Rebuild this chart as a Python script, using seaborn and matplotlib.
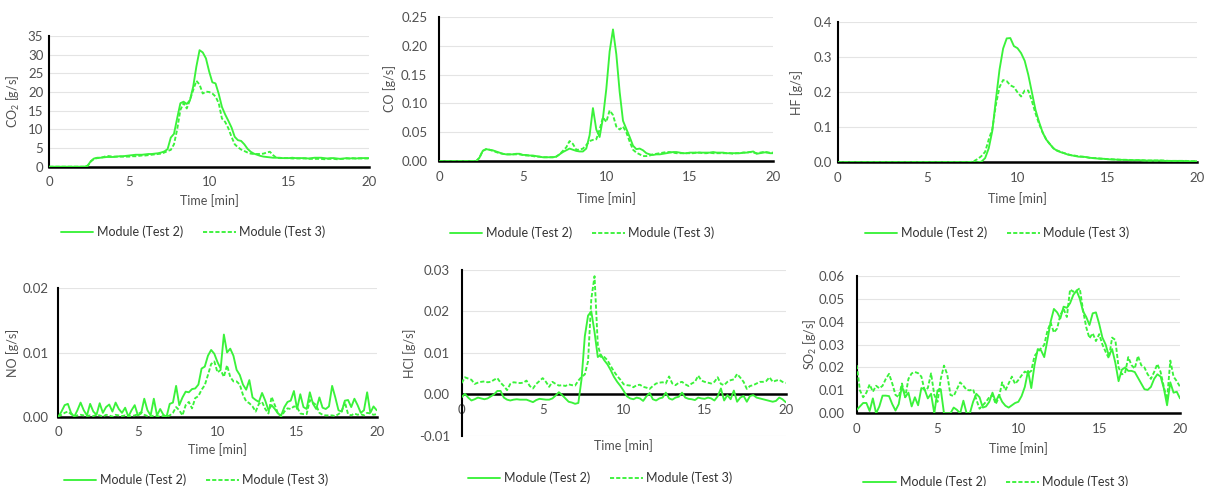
import matplotlib
matplotlib.use("Agg")
import matplotlib.pyplot as plt
from matplotlib.lines import Line2D
from matplotlib.ticker import FormatStrFormatter
import numpy as np
import pandas as pd
import seaborn as sns

# one sample every 0.2 min, 0 - 20 min (rows below = one minute each)
time_min = np.round(np.arange(0, 20.01, 0.2), 1)

co2_test2 = [
    0, 0, 0, 0, 0,
    0, 0, 0, 0, 0,
    0, 0, 0.3, 1.5, 2.2,
    2.4, 2.4, 2.5, 2.6, 2.6,
    2.6, 2.7, 2.8, 2.8, 2.9,
    3.0, 3.1, 3.2, 3.2, 3.2,
    3.3, 3.4, 3.4, 3.5, 3.6,
    3.8, 4.1, 4.7, 7.8, 8.8,
    13.0, 17.0, 17.4, 16.8, 17.8,
    21.4, 26.8, 31.2, 30.6, 29.0,
    25.5, 22.6, 22.3, 19.5, 16.0,
    14.0, 12.3, 10.5, 8.0, 7.1,
    6.9, 6.0, 4.8, 4.0, 3.5,
    3.2, 2.9, 2.7, 2.6, 2.5,
    2.4, 2.4, 2.4, 2.3, 2.3,
    2.3, 2.4, 2.3, 2.3, 2.3,
    2.3, 2.2, 2.3, 2.4, 2.4,
    2.4, 2.3, 2.2, 2.3, 2.3,
    2.2, 2.1, 2.2, 2.3, 2.2,
    2.3, 2.2, 2.3, 2.3, 2.3,
    2.3]
co2_test3 = [
    0, 0, 0, 0, 0,
    0, 0, 0, 0, 0,
    0, 0, 0.2, 1.4, 2.1,
    2.3, 2.4, 2.6, 2.9, 2.8,
    2.7, 2.7, 2.7, 2.7, 2.7,
    2.7, 2.8, 2.8, 2.9, 3.0,
    3.0, 3.1, 3.2, 3.3, 3.4,
    3.5, 3.8, 4.2, 4.5, 6.0,
    10.0, 15.2, 17.0, 15.6, 17.9,
    20.5, 23.0, 22.0, 19.6, 20.1,
    20.0, 19.6, 18.8, 17.0, 12.9,
    12.0, 10.3, 8.0, 6.0, 5.2,
    4.6, 4.2, 3.8, 3.5, 3.4,
    3.4, 3.4, 3.5, 3.8, 4.0,
    3.1, 2.4, 2.3, 2.3, 2.3,
    2.3, 2.2, 2.2, 2.2, 2.2,
    2.2, 2.1, 2.1, 2.1, 2.1,
    2.1, 2.0, 2.1, 2.1, 2.1,
    2.0, 2.1, 2.1, 2.2, 2.2,
    2.2, 2.2, 2.2, 2.2, 2.2,
    2.2]

co_test2 = [
    0, 0, 0, 0, 0,
    0, 0, 0, 0, 0,
    0, 0, 0.006, 0.018, 0.021,
    0.020, 0.019, 0.017, 0.015, 0.013,
    0.012, 0.012, 0.012, 0.013, 0.013,
    0.011, 0.011, 0.010, 0.010, 0.009,
    0.008, 0.007, 0.007, 0.007, 0.007,
    0.008, 0.012, 0.016, 0.019, 0.022,
    0.020, 0.018, 0.017, 0.017, 0.022,
    0.045, 0.092, 0.055, 0.042, 0.075,
    0.125, 0.190, 0.228, 0.185, 0.120,
    0.070, 0.056, 0.042, 0.027, 0.021,
    0.022, 0.019, 0.014, 0.012, 0.011,
    0.012, 0.012, 0.013, 0.014, 0.015,
    0.016, 0.016, 0.015, 0.014, 0.014,
    0.015, 0.015, 0.015, 0.015, 0.015,
    0.015, 0.015, 0.016, 0.015, 0.015,
    0.015, 0.014, 0.014, 0.014, 0.014,
    0.014, 0.015, 0.015, 0.016, 0.017,
    0.013, 0.014, 0.015, 0.016, 0.014,
    0.014]
co_test3 = [
    0, 0, 0, 0, 0,
    0, 0, 0, 0, 0,
    0, 0, 0.006, 0.018, 0.021,
    0.020, 0.018, 0.016, 0.014, 0.013,
    0.012, 0.012, 0.012, 0.012, 0.012,
    0.011, 0.010, 0.010, 0.009, 0.008,
    0.008, 0.007, 0.007, 0.007, 0.007,
    0.008, 0.012, 0.018, 0.024, 0.035,
    0.030, 0.020, 0.020, 0.022, 0.028,
    0.035, 0.037, 0.038, 0.055, 0.076,
    0.068, 0.088, 0.080, 0.060, 0.055,
    0.060, 0.050, 0.034, 0.020, 0.015,
    0.012, 0.009, 0.009, 0.010, 0.012,
    0.013, 0.014, 0.015, 0.016, 0.016,
    0.015, 0.014, 0.014, 0.014, 0.014,
    0.014, 0.014, 0.015, 0.015, 0.014,
    0.014, 0.015, 0.014, 0.014, 0.014,
    0.014, 0.014, 0.014, 0.013, 0.014,
    0.014, 0.015, 0.015, 0.016, 0.015,
    0.014, 0.015, 0.016, 0.015, 0.015,
    0.015]

hf_test2 = [
    0, 0, 0, 0, 0,
    0, 0, 0, 0, 0,
    0, 0, 0, 0, 0,
    0, 0, 0, 0, 0,
    0, 0, 0, 0, 0,
    0, 0, 0, 0, 0,
    0, 0, 0, 0, 0,
    0, 0, 0, 0, 0,
    0.002, 0.012, 0.040, 0.090, 0.180,
    0.265, 0.325, 0.354, 0.355, 0.332,
    0.326, 0.312, 0.290, 0.250, 0.200,
    0.150, 0.115, 0.085, 0.065, 0.052,
    0.040, 0.033, 0.029, 0.026, 0.022,
    0.020, 0.018, 0.016, 0.016, 0.015,
    0.013, 0.012, 0.011, 0.010, 0.010,
    0.009, 0.008, 0.008, 0.007, 0.007,
    0.007, 0.006, 0.006, 0.006, 0.006,
    0.005, 0.005, 0.005, 0.005, 0.005,
    0.005, 0.004, 0.004, 0.004, 0.004,
    0.004, 0.004, 0.003, 0.003, 0.003,
    0.003]
hf_test3 = [
    0, 0, 0, 0, 0,
    0, 0, 0, 0, 0,
    0, 0, 0, 0, 0,
    0, 0, 0, 0, 0,
    0, 0, 0, 0, 0,
    0, 0, 0, 0, 0,
    0, 0, 0, 0, 0,
    0, 0, 0.001, 0.004, 0.010,
    0.018, 0.030, 0.065, 0.095, 0.165,
    0.215, 0.235, 0.232, 0.220, 0.215,
    0.200, 0.188, 0.205, 0.205, 0.175,
    0.140, 0.110, 0.085, 0.065, 0.052,
    0.040, 0.034, 0.030, 0.026, 0.023,
    0.020, 0.019, 0.017, 0.016, 0.015,
    0.013, 0.012, 0.012, 0.011, 0.010,
    0.009, 0.009, 0.008, 0.008, 0.007,
    0.007, 0.007, 0.006, 0.006, 0.006,
    0.006, 0.005, 0.005, 0.005, 0.005,
    0.005, 0.005, 0.004, 0.004, 0.004,
    0.004, 0.004, 0.004, 0.003, 0.003,
    0.003]

no_test2 = [
    0.0000, 0.0008, 0.0018, 0.0020, 0.0006,
    0.0000, 0.0010, 0.0022, 0.0010, 0.0002,
    0.0020, 0.0008, 0.0003, 0.0021, 0.0006,
    0.0015, 0.0019, 0.0008, 0.0022, 0.0012,
    0.0006, 0.0014, 0.0000, 0.0010, 0.0018,
    0.0002, 0.0005, 0.0028, 0.0010, 0.0002,
    0.0028, 0.0002, 0.0012, 0.0003, 0.0000,
    0.0020, 0.0022, 0.0048, 0.0018, 0.0030,
    0.0039, 0.0038, 0.0043, 0.0044, 0.0050,
    0.0075, 0.0078, 0.0095, 0.0104, 0.0098,
    0.0085, 0.0075, 0.0128, 0.0100, 0.0106,
    0.0095, 0.0073, 0.0065, 0.0050, 0.0042,
    0.0057, 0.0030, 0.0026, 0.0023, 0.0037,
    0.0025, 0.0010, 0.0018, 0.0012, 0.0005,
    0.0002, 0.0015, 0.0023, 0.0025, 0.0040,
    0.0012, 0.0035, 0.0015, 0.0012, 0.0038,
    0.0020, 0.0012, 0.0030, 0.0014, 0.0012,
    0.0016, 0.0048, 0.0030, 0.0010, 0.0008,
    0.0025, 0.0026, 0.0015, 0.0028, 0.0018,
    0.0006, 0.0010, 0.0038, 0.0006, 0.0016,
    0.0010]
no_test3 = [
    0.0000, 0.0003, 0.0006, 0.0008, 0.0004,
    0.0001, 0.0002, 0.0003, 0.0002, 0.0001,
    0.0002, 0.0001, 0.0003, 0.0002, 0.0000,
    0.0003, 0.0002, 0.0000, 0.0003, 0.0002,
    0.0001, 0.0002, 0.0000, 0.0001, 0.0002,
    0.0004, 0.0007, 0.0003, 0.0001, 0.0000,
    0.0002, 0.0001, 0.0000, 0.0001, 0.0000,
    0.0002, 0.0006, 0.0015, 0.0010, 0.0002,
    0.0018, 0.0023, 0.0013, 0.0029, 0.0032,
    0.0042, 0.0049, 0.0065, 0.0082, 0.0086,
    0.0069, 0.0073, 0.0062, 0.0080, 0.0062,
    0.0055, 0.0055, 0.0050, 0.0034, 0.0024,
    0.0021, 0.0016, 0.0008, 0.0020, 0.0023,
    0.0012, 0.0005, 0.0031, 0.0018, 0.0005,
    0.0000, 0.0008, 0.0013, 0.0012, 0.0016,
    0.0015, 0.0005, 0.0004, 0.0004, 0.0026,
    0.0022, 0.0018, 0.0006, 0.0003, 0.0002,
    0.0002, 0.0002, 0.0001, 0.0004, 0.0008,
    0.0023, 0.0004, 0.0002, 0.0005, 0.0003,
    0.0004, 0.0002, 0.0006, 0.0005, 0.0003,
    0.0004]

hcl_test2 = [
    -0.0007, 0.0001, -0.0008, -0.0015, -0.0012,
    -0.0008, -0.0010, -0.0012, -0.0010, -0.0005,
    0.0000, 0.0008, 0.0008, -0.0008, -0.0013,
    -0.0015, -0.0013, -0.0012, -0.0013, -0.0013,
    -0.0013, -0.0016, -0.0019, -0.0014, -0.0011,
    -0.0012, -0.0013, -0.0013, -0.0010, -0.0003,
    0.0005, -0.0002, -0.0010, -0.0018, -0.0020,
    -0.0023, -0.0021, 0.0037, 0.0140, 0.0190,
    0.0200, 0.0150, 0.0090, 0.0095, 0.0082,
    0.0072, 0.0058, 0.0042, 0.0030, 0.0020,
    0.0008, -0.0005, -0.0010, -0.0012, -0.0008,
    -0.0010, -0.0016, -0.0005, 0.0003, -0.0012,
    -0.0015, -0.0010, -0.0008, 0.0004, -0.0010,
    -0.0013, -0.0008, -0.0006, 0.0004, -0.0008,
    -0.0011, -0.0012, -0.0014, -0.0008, -0.0010,
    -0.0011, -0.0008, -0.0010, -0.0015, -0.0005,
    0.0014, -0.0015, -0.0002, -0.0012, 0.0009,
    -0.0018, -0.0008, -0.0004, -0.0018, -0.0004,
    -0.0002, -0.0008, -0.0010, -0.0012, -0.0014,
    -0.0016, -0.0018, -0.0016, -0.0008, -0.0012,
    -0.0019]
hcl_test3 = [
    0.0027, 0.0041, 0.0038, 0.0035, 0.0025,
    0.0028, 0.0030, 0.0031, 0.0029, 0.0030,
    0.0035, 0.0039, 0.0028, 0.0020, 0.0010,
    0.0025, 0.0029, 0.0028, 0.0027, 0.0028,
    0.0033, 0.0020, 0.0014, 0.0025, 0.0032,
    0.0039, 0.0030, 0.0018, 0.0030, 0.0025,
    0.0021, 0.0022, 0.0020, 0.0024, 0.0022,
    0.0021, 0.0033, 0.0042, 0.0048, 0.0080,
    0.0230, 0.0285, 0.0120, 0.0090, 0.0090,
    0.0082, 0.0068, 0.0055, 0.0044, 0.0035,
    0.0024, 0.0022, 0.0021, 0.0017, 0.0022,
    0.0023, 0.0018, 0.0016, 0.0013, 0.0020,
    0.0026, 0.0028, 0.0029, 0.0026, 0.0043,
    0.0026, 0.0022, 0.0028, 0.0030, 0.0024,
    0.0020, 0.0026, 0.0030, 0.0045, 0.0033,
    0.0030, 0.0028, 0.0026, 0.0030, 0.0041,
    0.0025, 0.0022, 0.0030, 0.0034, 0.0036,
    0.0049, 0.0040, 0.0030, 0.0013, 0.0020,
    0.0022, 0.0026, 0.0030, 0.0030, 0.0032,
    0.0041, 0.0030, 0.0033, 0.0035, 0.0030,
    0.0027]

so2_test2 = [
    0.0015, 0.0030, 0.0045, 0.0045, 0.0010,
    0.0065, 0.0000, 0.0030, 0.0077, 0.0077,
    0.0075, 0.0040, 0.0012, 0.0040, 0.0120,
    0.0070, 0.0090, 0.0030, 0.0070, 0.0035,
    0.0110, 0.0105, 0.0065, 0.0085, 0.0000,
    0.0100, 0.0105, 0.0000, 0.0000, 0.0000,
    0.0025, 0.0015, 0.0000, 0.0055, 0.0000,
    0.0000, 0.0050, 0.0085, 0.0070, 0.0025,
    0.0030, 0.0050, 0.0090, 0.0050, 0.0080,
    0.0050, 0.0033, 0.0025, 0.0035, 0.0045,
    0.0050, 0.0075, 0.0115, 0.0185, 0.0110,
    0.0210, 0.0280, 0.0275, 0.0245, 0.0320,
    0.0400, 0.0455, 0.0440, 0.0414, 0.0465,
    0.0460, 0.0480, 0.0516, 0.0535, 0.0500,
    0.0445, 0.0420, 0.0385, 0.0436, 0.0440,
    0.0390, 0.0330, 0.0300, 0.0250, 0.0280,
    0.0220, 0.0140, 0.0190, 0.0200, 0.0185,
    0.0185, 0.0180, 0.0155, 0.0130, 0.0105,
    0.0102, 0.0115, 0.0150, 0.0170, 0.0160,
    0.0109, 0.0035, 0.0135, 0.0090, 0.0094,
    0.0065]
so2_test3 = [
    0.0210, 0.0100, 0.0070, 0.0090, 0.0126,
    0.0094, 0.0120, 0.0109, 0.0120, 0.0150,
    0.0172, 0.0130, 0.0080, 0.0070, 0.0130,
    0.0070, 0.0150, 0.0174, 0.0180, 0.0175,
    0.0160, 0.0100, 0.0110, 0.0174, 0.0080,
    0.0050, 0.0150, 0.0208, 0.0170, 0.0080,
    0.0075, 0.0105, 0.0135, 0.0120, 0.0102,
    0.0100, 0.0105, 0.0060, 0.0020, 0.0035,
    0.0050, 0.0070, 0.0080, 0.0040, 0.0070,
    0.0135, 0.0100, 0.0130, 0.0160, 0.0128,
    0.0145, 0.0165, 0.0182, 0.0175, 0.0185,
    0.0250, 0.0268, 0.0283, 0.0298, 0.0360,
    0.0395, 0.0352, 0.0370, 0.0429, 0.0455,
    0.0420, 0.0540, 0.0530, 0.0535, 0.0545,
    0.0450, 0.0375, 0.0327, 0.0349, 0.0315,
    0.0345, 0.0300, 0.0268, 0.0240, 0.0330,
    0.0320, 0.0200, 0.0170, 0.0175, 0.0245,
    0.0210, 0.0195, 0.0250, 0.0210, 0.0200,
    0.0170, 0.0150, 0.0180, 0.0215, 0.0180,
    0.0115, 0.0060, 0.0230, 0.0160, 0.0140,
    0.0116]

series_names = ["Module (Test 2)", "Module (Test 3)"]

GREEN = "#3af23a"
TEXT = "#505050"
W, H = 1207, 486
DASH = (2.2, 1.1)

sns.set_theme(style="white")
plt.rcParams["font.family"] = ["Lato", "DejaVu Sans"]
plt.rcParams["mathtext.fontset"] = "custom"
plt.rcParams["mathtext.rm"] = "Lato"
plt.rcParams["mathtext.it"] = "Lato"

# panel: ylabel, data, y-range, y-ticks, tick format,
# plot box in px (x0, x1, ytop, ybottom), legend centre, ylabel x, xlabel y, ytick gap
panels = [
    ("CO$_\\mathrm{2}$ [g/s]", co2_test2, co2_test3, (0, 35), np.arange(0, 36, 5), "%d",
     (49.3, 369, 36, 166.7), (193, 232), 13, 201, 6),
    ("CO [g/s]", co_test2, co_test3, (0, 0.25), np.arange(0, 0.26, 0.05), "%.2f",
     (439.3, 773.3, 16.7, 161.3), (582, 233), 390, 199, 12),
    ("HF [g/s]", hf_test2, hf_test3, (0, 0.4), np.arange(0, 0.41, 0.1), "%.1f",
     (837.7, 1197.3, 22.3, 162.3), (997, 233), 797, 199, 6),
    ("NO [g/s]", no_test2, no_test3, (0, 0.02), np.arange(0, 0.021, 0.01), "%.2f",
     (58.3, 376.7, 288.3, 416.7), (196, 480), 13, 450, 10),
    ("HCl [g/s]", hcl_test2, hcl_test3, (-0.01, 0.03), np.arange(-0.01, 0.031, 0.01), "%.2f",
     (461.7, 785.7, 270, 435.7), (600, 478), 410, 446, 11.7),
    ("SO$_\\mathrm{2}$ [g/s]", so2_test2, so2_test3, (0, 0.06), np.arange(0, 0.061, 0.01), "%.2f",
     (856.7, 1180, 275.7, 413.3), (996, 482), 810, 449, 11.7),
]

fig = plt.figure(figsize=(W / 100, H / 100), dpi=100)

for ylab, s2, s3, ylim, yticks, fmt, (x0, x1, yt, yb), (lx, ly), ylx, xly, ygap in panels:
    ax = fig.add_axes([x0 / W, 1 - yb / H, (x1 - x0) / W, (yb - yt) / H])
    df = pd.DataFrame({
        "time": np.concatenate([time_min, time_min]),
        "value": np.concatenate([s2, s3]),
        "series": [series_names[0]] * len(time_min) + [series_names[1]] * len(time_min),
    })
    sns.lineplot(data=df, x="time", y="value", style="series",
                 dashes={series_names[0]: "", series_names[1]: DASH},
                 color=GREEN, linewidth=1.35, errorbar=None, legend=False, ax=ax, zorder=3)

    ax.set_xlim(0, 20)
    ax.set_ylim(*ylim)
    ax.set_xticks([0, 5, 10, 15, 20])
    ax.set_yticks(yticks)
    ax.yaxis.set_major_formatter(FormatStrFormatter(fmt))
    ax.yaxis.grid(True, color="#e4e4e4", linewidth=0.8)
    ax.set_axisbelow(True)

    for side in ["top", "right"]:
        ax.spines[side].set_visible(False)
    ax.spines["left"].set_color("black")
    ax.spines["left"].set_linewidth(1.5)
    ax.spines["bottom"].set_color("black")
    ax.spines["bottom"].set_linewidth(1.8)
    if ylim[0] < 0:
        ax.spines["bottom"].set_position(("data", 0))

    ax.tick_params(axis="x", direction="inout", length=5, width=1.8, color="black",
                   pad=4.5, labelsize=9.5, labelcolor=TEXT)
    ax.tick_params(axis="y", direction="out", length=2.5, width=1.2, color="black",
                   pad=(ygap - 3.5) / 1.389, labelsize=9.5, labelcolor=TEXT)

    ax.set_xlabel("Time [min]", fontsize=9, color=TEXT)
    ax.set_ylabel(ylab, fontsize=9, color=TEXT)
    ax.xaxis.label.set_va("center")
    ax.yaxis.label.set_va("center")
    ax.xaxis.set_label_coords(((x0 + x1) / 2 - x0) / (x1 - x0), (yb - xly) / (yb - yt))
    ax.yaxis.set_label_coords((ylx - x0) / (x1 - x0), 0.5)

    handles = [Line2D([], [], color=GREEN, lw=1.35),
               Line2D([], [], color=GREEN, lw=1.35, dashes=DASH)]
    ax.legend(handles, series_names, loc="center", bbox_to_anchor=(lx / W, 1 - ly / H),
              bbox_transform=fig.transFigure, ncol=2, frameon=False, fontsize=9,
              handlelength=2.6, handletextpad=0.3, columnspacing=1.6,
              labelcolor="#333333")

fig.savefig("out.png", dpi=100)
